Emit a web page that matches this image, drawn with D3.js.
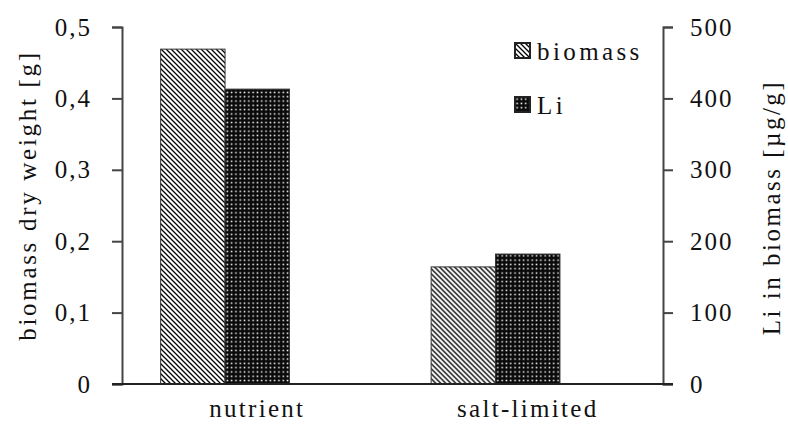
<!DOCTYPE html>
<html>
<head>
  <meta charset="utf-8">
  <title>Biomass and Li</title>
  <style>
    body { margin: 0; background: #fff; }
  </style>
</head>
<body>
  <svg></svg>
  <script src="https://d3js.org/d3.v7.min.js"></script>
  <script>
    const categories = ["nutrient", "salt-limited"];
    // third slot is empty in the original layout
    const seriesKeys = ["biomass", "Li", ""];
    const biomass = [0.469, 0.164];   // g
    const li = [413, 182];            // µg/g
    const leftTicks = [0, 0.1, 0.2, 0.3, 0.4, 0.5];
    const rightTicks = [0, 100, 200, 300, 400, 500];

    const width = 788;
    const height = 432;
    const margin = { top: 27, right: 125, bottom: 48, left: 122 };
    const font = "Liberation Serif";

    const svg = d3.select("svg")
      .attr("width", width)
      .attr("height", height)
      .attr("viewBox", [0, 0, width, height])
      .style("font-family", font);

    const defs = svg.append("defs");
    const hatch = defs.append("pattern")
      .attr("id", "hatch")
      .attr("patternUnits", "userSpaceOnUse")
      .attr("width", 5).attr("height", 5);
    hatch.append("rect").attr("width", 5).attr("height", 5).attr("fill", "#fff");
    hatch.append("path")
      .attr("d", "M0,0L5,5M-1,4L1,6M4,-1L6,1")
      .attr("stroke", "#000").attr("stroke-width", 1.3);

    const dots = defs.append("pattern")
      .attr("id", "dots")
      .attr("patternUnits", "userSpaceOnUse")
      .attr("width", 4.3).attr("height", 4.3);
    dots.append("rect").attr("width", 4.3).attr("height", 4.3).attr("fill", "#0a0a0a");
    dots.append("rect").attr("x", 1.4).attr("y", 1.4)
      .attr("width", 1.5).attr("height", 1.5).attr("fill", "#fff");

    const fills = { biomass: "url(#hatch)", Li: "url(#dots)" };

    const x0 = d3.scaleBand()
      .domain(categories)
      .range([margin.left, width - margin.right]);
    const x1 = d3.scaleBand()
      .domain(seriesKeys)
      .range([0, x0.bandwidth()])
      .paddingOuter(0.6);

    const yL = d3.scaleLinear([0, 0.5], [height - margin.bottom, margin.top]);
    const yR = d3.scaleLinear([0, 500], [height - margin.bottom, margin.top]);

    const rows = categories.map((c, i) => ({
      category: c,
      values: [
        { key: "biomass", y: yL(biomass[i]) },
        { key: "Li", y: yR(li[i]) }
      ]
    }));

    svg.append("g")
      .selectAll("g")
      .data(rows)
      .join("g")
      .attr("transform", d => `translate(${x0(d.category)},0)`)
      .selectAll("rect")
      .data(d => d.values)
      .join("rect")
      .attr("x", d => x1(d.key))
      .attr("y", d => d.y)
      .attr("width", x1.bandwidth())
      .attr("height", d => yL(0) - d.y)
      .attr("fill", d => fills[d.key])
      .attr("stroke", "#333")
      .attr("stroke-width", 1);

    const fmt = d => d === 0 ? "0" : d3.format(".1f")(d).replace(".", ",");

    const left = svg.append("g")
      .attr("transform", `translate(${margin.left},0)`)
      .call(d3.axisLeft(yL).tickValues(leftTicks).tickFormat(fmt).tickSize(10).tickPadding(20));
    const right = svg.append("g")
      .attr("transform", `translate(${width - margin.right},0)`)
      .call(d3.axisRight(yR).tickValues(rightTicks).tickSize(10).tickPadding(17));

    [left, right].forEach(g => {
      g.attr("font-family", font).attr("font-size", 25);
      g.select(".domain").attr("stroke", "#444").attr("stroke-width", 2);
      g.selectAll(".tick line").attr("stroke", "#444").attr("stroke-width", 2);
      g.selectAll(".tick text")
        .attr("letter-spacing", 2)
        .attr("fill", "#111");
    });

    // baseline
    svg.append("line")
      .attr("x1", margin.left - 10).attr("x2", width - margin.right + 10)
      .attr("y1", yL(0)).attr("y2", yL(0))
      .attr("stroke", "#222").attr("stroke-width", 2);

    const bottom = svg.append("g")
      .attr("transform", `translate(0,${yL(0)})`)
      .call(d3.axisBottom(x0).tickSize(0).tickPadding(15));
    bottom.attr("font-family", font).attr("font-size", 25);
    bottom.select(".domain").remove();
    bottom.selectAll(".tick text")
      .attr("letter-spacing", 2.3)
      .attr("fill", "#111");

    svg.append("text")
      .attr("transform", `translate(36,${(yL(0) + yL(0.5)) / 2 - 10}) rotate(-90)`)
      .attr("text-anchor", "middle")
      .attr("font-family", font)
      .attr("font-size", 25)
      .attr("letter-spacing", 2.7)
      .attr("fill", "#111")
      .text("biomass dry weight [g]");

    svg.append("text")
      .attr("transform", `translate(780,${(yL(0) + yL(0.5)) / 2 + 2}) rotate(-90)`)
      .attr("text-anchor", "middle")
      .attr("font-family", font)
      .attr("font-size", 25)
      .attr("letter-spacing", 2.5)
      .attr("fill", "#111")
      .text("Li in biomass [µg/g]");

    const legend = svg.append("g")
      .selectAll("g")
      .data(["biomass", "Li"])
      .join("g")
      .attr("transform", (d, i) => `translate(515,${43 + i * 54})`);
    legend.append("rect")
      .attr("width", 15).attr("height", 15)
      .attr("fill", d => fills[d])
      .attr("stroke", "#222").attr("stroke-width", 2);
    legend.append("text")
      .attr("x", 22).attr("y", 17)
      .attr("font-family", font)
      .attr("font-size", 25)
      .attr("letter-spacing", 3.4)
      .attr("fill", "#111")
      .text(d => d);
  </script>
</body>
</html>
